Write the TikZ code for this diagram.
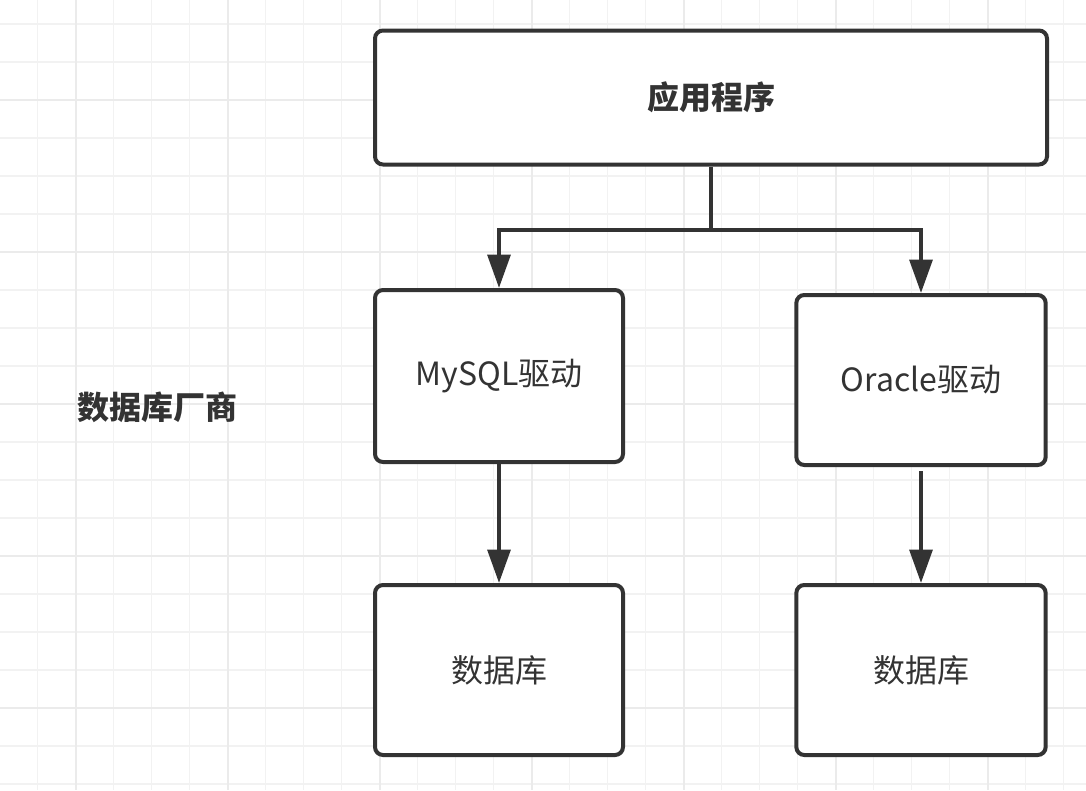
\documentclass[tikz,border=0pt]{standalone}
\usepackage{fontspec}
\setmainfont{Noto Sans CJK SC}
\usetikzlibrary{arrows.meta}
\definecolor{ink}{HTML}{333333}
\definecolor{gridminor}{HTML}{F2F2F2}
\definecolor{gridmajor}{HTML}{EBEBEB}

\begin{document}
\begin{tikzpicture}[x=0.75pt,y=-0.75pt,
  box/.style={draw=ink,line width=3pt,rounded corners=6pt,fill=white,inner sep=0pt,text=ink,font=\fontsize{24}{28}\selectfont},
  link/.style={draw=ink,line width=3pt},
  arrow/.style={link,-{Triangle[width=17pt,length=25pt]}}]
\useasboundingbox (0,0) rectangle (1086,790);
\fill[white] (0,0) rectangle (1086,790);
% grid
\foreach \i in {1,...,28} \draw[gridminor,line width=1.1pt] ({-0.3+38*\i},0) -- ({-0.3+38*\i},790);
\foreach \j in {0,...,20} \draw[gridminor,line width=1.1pt] (0,{24+38*\j}) -- (1086,{24+38*\j});
\foreach \i in {2,6,...,26} \draw[gridmajor,line width=1.4pt] ({-0.3+38*\i},0) -- ({-0.3+38*\i},790);
\foreach \j in {2,6,...,18} \draw[gridmajor,line width=1.4pt] (0,{24+38*\j}) -- (1086,{24+38*\j});
% boxes
\node[box,minimum width=504pt,minimum height=100.5pt] (app) at (711,97.5) {\bfseries 应用程序};
\node[box,minimum width=186pt,minimum height=129pt] (mysql) at (499,376) {MySQL驱动};
\node[box,minimum width=187pt,minimum height=127.5pt] (oracle) at (921,380) {Oracle驱动};
\node[box,minimum width=186pt,minimum height=127.5pt] (db1) at (499,670) {数据库};
\node[box,minimum width=187pt,minimum height=127.5pt] (db2) at (921,670) {数据库};
\node[text=ink,font=\fontsize{24}{28}\selectfont\bfseries] (vendor) at (157,407) {数据库厂商};
% connectors
\coordinate (split) at (711,230);
\draw[link] (app.south) -- (split);
\draw[arrow] (split) -| (mysql.north);
\draw[arrow] (split) -| (oracle.north);
\draw[arrow] (mysql.south) -- (db1.north);
\draw[arrow,shorten <=3pt] (oracle.south) -- (db2.north);
\end{tikzpicture}
\end{document}
